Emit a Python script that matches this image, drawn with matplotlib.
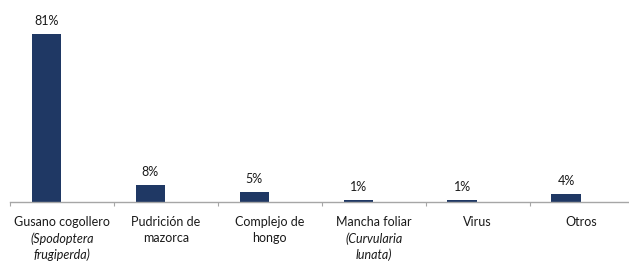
import matplotlib
matplotlib.use("Agg")
import matplotlib.pyplot as plt
from matplotlib.transforms import blended_transform_factory

categories = ["Gusano cogollero", "Pudrición de\nmazorca", "Complejo de\nhongo",
              "Mancha foliar", "Virus", "Otros"]
italic_parts = ["(Spodoptera\nfrugiperda)", "", "", "(Curvularia\nlunata)", "", ""]
values = [81, 8, 5, 1, 1, 4]
value_labels = ["81%", "8%", "5%", "1%", "1%", "4%"]

plt.rcParams['font.family'] = ['Lato', 'DejaVu Sans']
fig = plt.figure(figsize=(6.29, 2.62), dpi=100)
W, H = 629, 262
ax = fig.add_axes([10 / W, 60 / H, 623.5 / W, 192 / H])

color = "#1F3864"
x = list(range(len(categories)))
bx = [i - 0.15 for i in x]
ax.bar(bx, values, width=0.28, color=color)
ax.set_xlim(-0.5, len(categories) - 0.5)
ax.set_ylim(0, 192 / (168 / 81))

for s in ["top", "right", "left"]:
    ax.spines[s].set_visible(False)
ax.spines["bottom"].set_color("#A6A6A6")
ax.spines["bottom"].set_linewidth(1.0)
ax.set_yticks([])
ax.set_xticks([i - 0.5 for i in range(len(categories) + 1)])
ax.set_xticklabels([])
ax.tick_params(axis="x", length=3, color="#A6A6A6", direction="out")

fs = 9
tc = "#1a1a1a"
for xi, v, lab in zip(bx, values, value_labels):
    ax.annotate(lab, (xi, v), xytext=(0, 5), textcoords="offset points",
                ha="center", va="bottom", fontsize=fs, color=tc)

trans = blended_transform_factory(ax.transData, ax.transAxes)
lh = 16.5 * 72 / 100  # line height in points
for i, (cat, it) in enumerate(zip(categories, italic_parts)):
    lines = cat.split("\n")
    k = 0
    for ln in lines:
        ax.annotate(ln, (i, 0), xycoords=trans, xytext=(0, -20 * 0.72 - k * lh),
                    textcoords="offset points", ha="center", va="center",
                    fontsize=fs, color=tc)
        k += 1
    if it:
        for ln in it.split("\n"):
            ax.annotate(ln, (i, 0), xycoords=trans, xytext=(0, -20 * 0.72 - k * lh),
                        textcoords="offset points", ha="center", va="center",
                        fontsize=fs, color=tc, style="italic")
            k += 1

fig.savefig("out.png", dpi=100)
